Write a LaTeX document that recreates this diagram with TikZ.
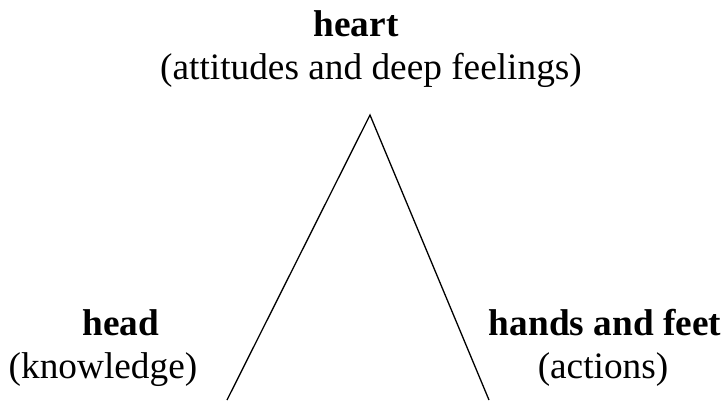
\documentclass[tikz,border=0pt]{standalone}
\usepackage{fontspec}
\setmainfont{Liberation Serif}
\begin{document}
\begin{tikzpicture}[x=1pt,y=-1pt,
  lbl/.style={inner sep=0pt,anchor=base,font=\fontsize{37.3}{43}\selectfont},
  ttl/.style={lbl,font=\fontsize{37.3}{43}\selectfont\bfseries},
  edge/.style={draw=black,line width=1.3pt}]
\useasboundingbox (0,0) rectangle (725,400);
\node[ttl] (heart) at (356,36) {heart};
\node[lbl] (heartsub) at (371,79) {(attitudes and deep feelings)};
\node[ttl] (head) at (121,335) {head};
\node[lbl] (headsub) at (103,378) {(knowledge)};
\node[ttl] (hands) at (605,335) {hands and feet};
\node[lbl] (handssub) at (603,378) {(actions)};
\coordinate (apex) at (370,115);
\coordinate (bl) at (227,400);
\coordinate (br) at (489,400);
\draw[edge] (bl) -- (apex) -- (br);
\end{tikzpicture}
\end{document}
